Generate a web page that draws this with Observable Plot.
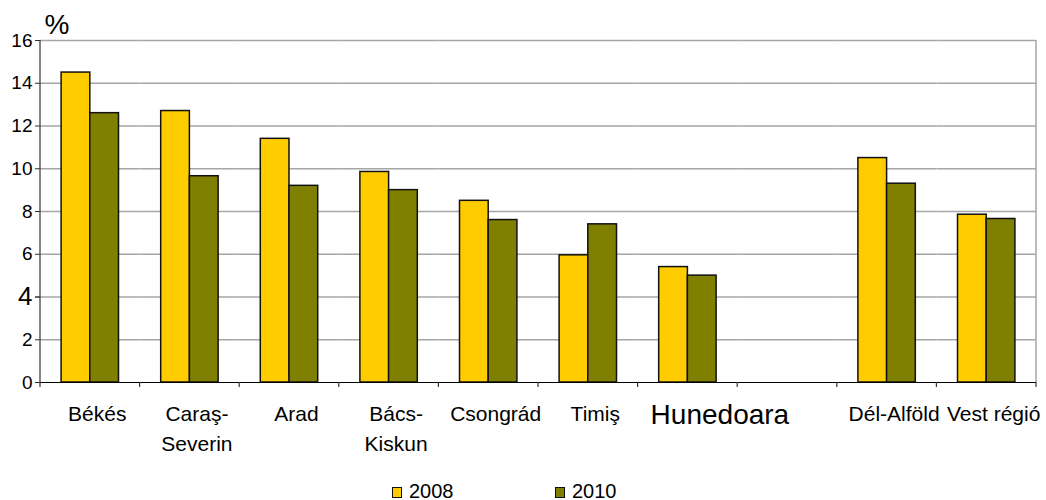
<!DOCTYPE html>
<html>
<head>
<meta charset="utf-8">
<script src="https://cdn.jsdelivr.net/npm/d3@7"></script>
<script src="https://cdn.jsdelivr.net/npm/@observablehq/plot@0.6"></script>
<style>
  body { margin: 0; background: #fff; font-family: "Liberation Sans", Arial, sans-serif; }
  #legend { position: relative; height: 30px; margin-top: 6px; font-size: 20px; line-height: 30px; color: #000; }
  #legend .item { position: absolute; top: 0; white-space: nowrap; }
  #legend .sw { display: inline-block; width: 8px; height: 9px; border: 1px solid #111; margin-right: 7px; vertical-align: baseline; }
</style>
</head>
<body>
<div id="chart"></div>
<div id="legend"></div>
<script>
const categories = ["Békés", "Caraş-Severin", "Arad", "Bács-Kiskun", "Csongrád", "Timiş", "Hunedoara", " ", "Dél-Alföld", "Vest régió"];
const tickLabels = ["Békés", "Caraş-\nSeverin", "Arad", "Bács-\nKiskun", "Csongrád", "Timiş", "Hunedoara", "", "Dél-Alföld", "Vest régió"];
const years = ["2008", "2010"];
const values2008 = [14.5, 12.7, 11.4, 9.85, 8.5, 5.95, 5.4, null, 10.5, 7.85];
const values2010 = [12.6, 9.65, 9.2, 9.0, 7.6, 7.4, 5.0, null, 9.3, 7.65];
const yTicks = [0, 2, 4, 6, 8, 10, 12, 14, 16];
const colors = ["#FFCC00", "#808000"];

const labelMap = new Map(categories.map((c, i) => [c, tickLabels[i]]));
const rows = categories.flatMap((c, i) => [
  {cat: c, year: years[0], value: values2008[i]},
  {cat: c, year: years[1], value: values2010[i]}
]);

const chart = Plot.plot({
  width: 1046,
  height: 470,
  marginLeft: 40,
  marginRight: 10,
  marginTop: 40,
  marginBottom: 88,
  style: {fontFamily: '"Liberation Sans", Arial, sans-serif', color: "#000", background: "#fff", overflow: "visible"},
  fx: {domain: categories, paddingInner: 0, paddingOuter: 0, round: false, label: null},
  x: {domain: years, paddingInner: 0, paddingOuter: 0.735, round: false, axis: null, label: null},
  y: {domain: [0, 16], label: null},
  color: {domain: years, range: colors},
  marks: [
    Plot.ruleY(yTicks.filter(d => d > 0), {stroke: "#a6a6a6", strokeWidth: 1.5}),
    Plot.barY(rows, {fx: "cat", x: "year", y: "value", fill: "year", stroke: "#111", strokeWidth: 1.5, inset: 0}),
    Plot.ruleY([0], {stroke: "#000", strokeWidth: 1.2}),
    Plot.axisY({ticks: yTicks, tickSize: 5, tickPadding: 3, fontSize: 19, stroke: "#333", tickFormat: d => d === 4 ? "" : String(d), label: null}),
    Plot.axisY({ticks: [4], tickSize: 5, tickPadding: 3, fontSize: 26, stroke: "#333", tickFormat: d => String(d), label: null}),
    Plot.axisFx({anchor: "bottom", tickSize: 0, tickPadding: 17, fontSize: 21, lineHeight: 1.43, lineAnchor: "top", dx: 7, tickFormat: c => c === "Hunedoara" ? "" : labelMap.get(c), label: null}),
    Plot.axisFx({anchor: "bottom", tickSize: 0, tickPadding: 22, fontSize: 28, lineAnchor: "top", dx: 32, tickFormat: c => c === "Hunedoara" ? labelMap.get(c) : "", label: null}),
    Plot.text(["%"], {fx: () => categories[0], frameAnchor: "top-left", textAnchor: "start", lineAnchor: "bottom", dx: 4, dy: -7, fontSize: 28, fill: "#000", text: d => d})
  ]
});
document.getElementById("chart").append(chart);

// axis lines, category separators and right border from the library's scales
const fx = chart.scale("fx");
const ys = chart.scale("y");
const y0 = ys.apply(0), y1 = ys.apply(16);
const bw = fx.bandwidth;
const svg = d3.select(chart);
const g = svg.append("g");
const xLeft = fx.apply(categories[0]);
const xRight = fx.apply(categories[categories.length - 1]) + bw;
g.append("line").attr("x1", xRight).attr("x2", xRight).attr("y1", y1).attr("y2", y0).attr("stroke", "#a6a6a6").attr("stroke-width", 1.5);
g.append("line").attr("x1", xLeft).attr("x2", xLeft).attr("y1", y1).attr("y2", y0 + 5).attr("stroke", "#333").attr("stroke-width", 1.2);
categories.forEach((c, i) => {
  const xs = fx.apply(c) + bw;
  g.append("line").attr("x1", xs).attr("x2", xs).attr("y1", y0).attr("y2", y0 + 5).attr("stroke", "#333").attr("stroke-width", 1.2);
});

// legend
const legend = d3.select("#legend");
const legendLeft = [392, 555];
years.forEach((yr, i) => {
  const it = legend.append("span").attr("class", "item").style("left", legendLeft[i] + "px");
  it.append("span").attr("class", "sw").style("background", colors[i]);
  it.append("span").text(yr);
});
</script>
</body>
</html>
